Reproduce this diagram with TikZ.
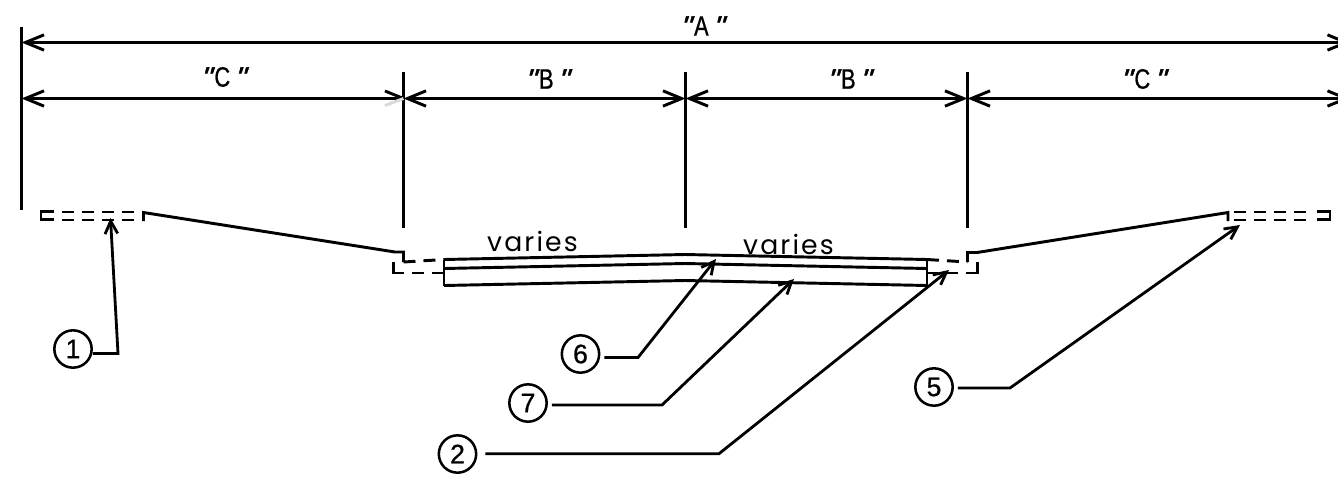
\documentclass[tikz,border=0pt]{standalone}
\usepackage{fontspec}
\setmainfont{Liberation Sans}
\newfontfamily\dimfont[FakeStretch=0.78,FakeBold=0.8]{Liberation Sans}
\newfontfamily\quotefont[FakeSlant=0.3,FakeStretch=1.1,FakeBold=1.5]{Liberation Sans}
\newfontfamily\wordfont[LetterSpace=8]{Poppins}
\newfontfamily\numfont[FakeBold=0.8]{Liberation Sans}
\usetikzlibrary{arrows.meta}
\newcommand{\dimtext}[1]{{\quotefont"}\kern3pt{\dimfont #1}\kern2.5pt{\quotefont"}}
\tikzset{
  every picture/.append style={x=0.75pt,y=-0.75pt},
  road/.style={line width=2.2pt,black,line cap=butt,line join=miter},
  dashroad/.style={road,dash pattern=on 9pt off 6pt},
  extline/.style={line width=2.2pt,black},
  dimline/.style={line width=2.2pt,black,{Straight Barb[length=14pt,width=11.5pt]}-{Straight Barb[length=14pt,width=11.5pt]}},
  dimleft/.style={line width=2.2pt,black,{Straight Barb[length=14pt,width=11.5pt]}-},
  leader/.style={line width=2.1pt,black,-{Straight Barb[length=9.5pt,width=9.5pt]}},
  callout/.style={circle,draw=black,line width=1.9pt,minimum size=28pt,inner sep=0pt,font=\numfont\fontsize{20}{20}\selectfont},
  dimlabel/.style={font=\fontsize{21}{22}\selectfont,inner sep=0pt},
  wordlabel/.style={font=\wordfont\fontsize{20}{20}\selectfont,inner sep=0pt,anchor=base}
}
\begin{document}
\begin{tikzpicture}
\useasboundingbox (0,0) rectangle (1338,476);
\clip (0,0) rectangle (1338,476);
% extension lines
\coordinate (e1t) at (21.5,27);   \coordinate (e1b) at (21.5,210);
\coordinate (e2t) at (403.5,72);  \coordinate (e2b) at (403.5,228);
\coordinate (e3t) at (685.5,72);  \coordinate (e3b) at (685.5,228);
\coordinate (e4t) at (967.5,72);  \coordinate (e4b) at (967.5,228);
\draw[extline] (e1t) -- (e1b);
\draw[extline] (e2t) -- (e2b);
\draw[extline] (e3t) -- (e3b);
\draw[extline] (e4t) -- (e4b);
% dimension lines
\coordinate (a1) at (21.5,42.5);  \coordinate (a2) at (1350,42.5);
\coordinate (c1) at (21.5,98.5);  \coordinate (c2) at (403.5,98.5);
\coordinate (c3) at (685.5,98.5); \coordinate (c4) at (967.5,98.5);
\coordinate (c5) at (1350,98.5);
\coordinate (g1) at (385,91);     \coordinate (g2) at (385,105.5);
\draw[dimline] (a1) -- (a2);
\draw[dimleft] (c1) -- (c2);
\draw[line width=2.2pt,black] (g1) -- (c2);
\draw[line width=2.2pt,black!15] (g2) -- (c2);
\draw[dimline] (c2) -- (c3);
\draw[dimline] (c3) -- (c4);
\draw[dimline] (c4) -- (c5);
\node[dimlabel] (la) at (701,26) {\dimtext{A}};
\node[dimlabel] (lc1) at (222,77) {\dimtext{C}};
\node[dimlabel] (lb1) at (546,79) {\dimtext{B}};
\node[dimlabel] (lb2) at (848,79) {\dimtext{B}};
\node[dimlabel] (lc2) at (1142,79) {\dimtext{C}};
% left shoulder
\draw[road] (54,211.5) -- (41,211.5) -- (41,219.5) -- (54,219.5);
\draw[dashroad] (62,212) -- (137,212);
\draw[dashroad] (62,220) -- (137,220);
% left slope
\draw[road] (143.5,221) -- (143.5,212.5) -- (395,252) -- (403.5,252) -- (403.5,262);
\draw[dashroad] (403.5,262) -- (444,259.5);
\draw[road] (393.5,262) -- (393.5,273) -- (404,273);
\draw[dashroad] (412,273) -- (444,273);
% pavement
\draw[road] (444,259.5) -- (685,254.5) -- (927,259.5);
\draw[road] (444,268.5) -- (685,263.5) -- (927,268.5);
\draw[road] (444,285.5) -- (685,280.5) -- (927,285.5);
\draw[road] (444,259.5) -- (444,285.5);
\draw[road] (927,259.5) -- (927,285.5);
% right slope
\draw[dashroad] (927,259.5) -- (967.5,262);
\draw[road] (967.5,262) -- (967.5,252.5) -- (977,252.5) -- (1228,212.5) -- (1228,221);
\draw[road] (977.5,262) -- (977.5,273) -- (966,273);
\draw[dashroad] (958,273) -- (927,273);
% right shoulder
\draw[dashroad] (1234,212) -- (1309,212);
\draw[dashroad] (1234,220) -- (1309,220);
\draw[road] (1317,211.5) -- (1330,211.5) -- (1330,219.5) -- (1317,219.5);
% texts
\node[wordlabel] (v1) at (532.5,251) {varies};
\node[wordlabel] (v2) at (788.5,254) {varies};
% callouts
\node[callout] (n1) at (73,349) {1};
\node[callout] (n6) at (580.5,354) {6};
\node[callout] (n7) at (528,403) {7};
\node[callout] (n2) at (457.5,454) {2};
\node[callout] (n5) at (934,387) {5};
\coordinate (t1) at (110.5,218);
\coordinate (t6) at (716,259);
\coordinate (t7) at (794,279);
\coordinate (t2) at (949,270);
\coordinate (t5) at (1240,225);
\coordinate (b1) at (118,353.5);
\coordinate (b6) at (638,357.5);
\coordinate (b7) at (662,405);
\coordinate (b2) at (719,453.7);
\coordinate (b5) at (1010,388);
\draw[leader] (n1.east |- b1) -- (b1) -- (t1);
\draw[leader] ([xshift=3pt]n6.east |- b6) -- (b6) -- (t6);
\draw[leader] ([xshift=3pt]n7.east |- b7) -- (b7) -- (t7);
\draw[leader] ([xshift=6pt]n2.east |- b2) -- (b2) -- (t2);
\draw[leader] ([xshift=3pt]n5.east |- b5) -- (b5) -- (t5);
\end{tikzpicture}
\end{document}
